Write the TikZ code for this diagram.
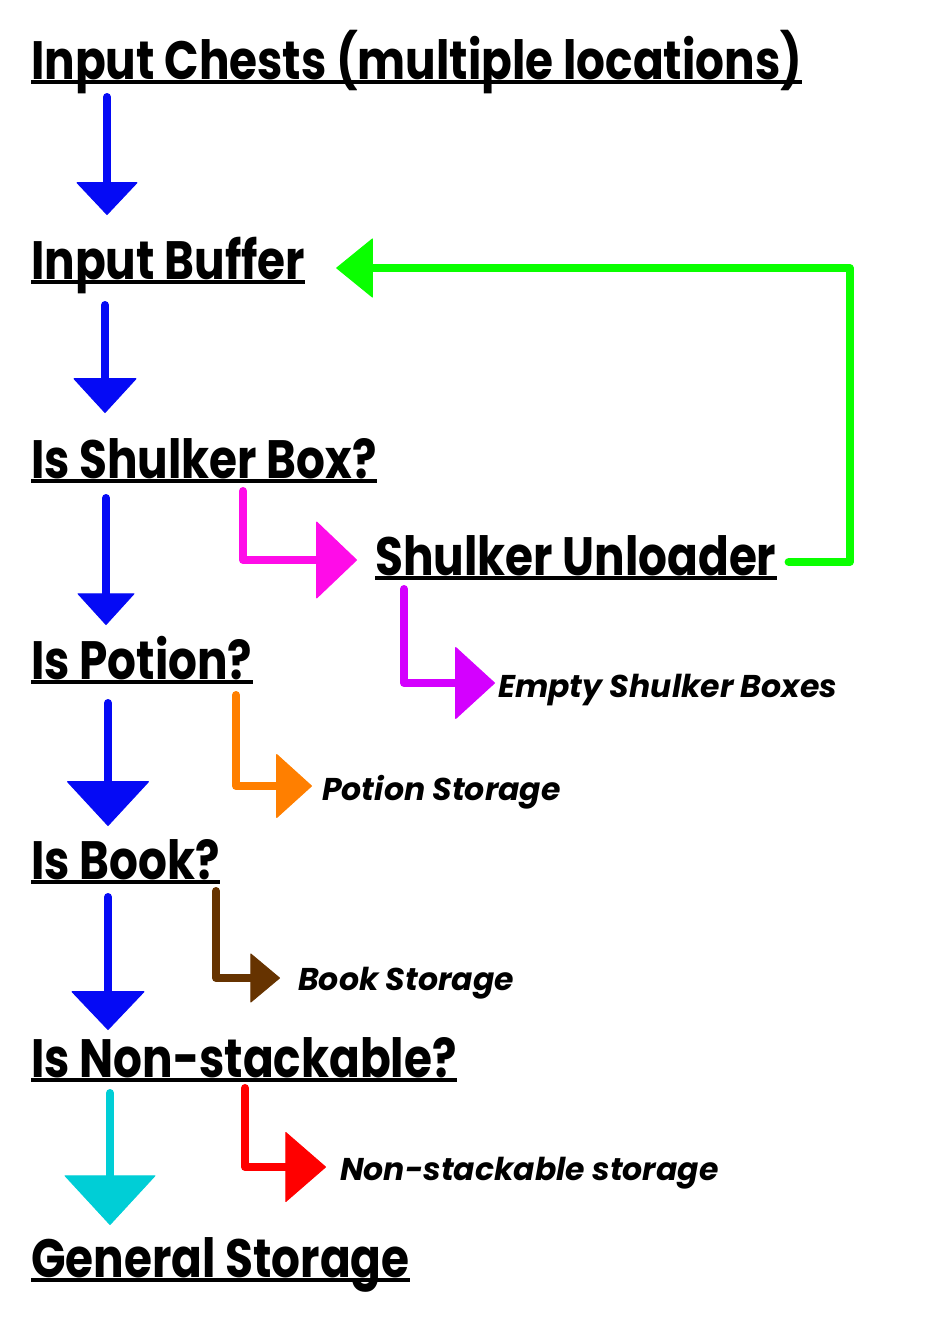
\documentclass[tikz,border=0pt]{standalone}
\usepackage{fontspec}
\setmainfont{Poppins}
\newfontfamily\titlefont{Poppins}[FakeStretch=0.84]
\usetikzlibrary{arrows.meta,calc}
\definecolor{cblue}{RGB}{5,10,245}
\definecolor{ccyan}{RGB}{0,206,214}
\definecolor{cgreen}{RGB}{10,255,0}
\definecolor{cmagenta}{RGB}{255,12,232}
\definecolor{cpurple}{RGB}{212,0,255}
\definecolor{corange}{RGB}{255,127,0}
\definecolor{cbrown}{RGB}{102,51,0}
\definecolor{cred}{RGB}{255,0,0}
\tikzset{
  title/.style={anchor=base west, inner sep=0pt, font=\fontsize{54}{60}\titlefont\bfseries},
  label/.style={anchor=base west, inner sep=0pt, font=\fontsize{31.5}{38}\selectfont\bfseries\itshape},
  uline/.style={line width=3.5pt, black},
  flow/.style={line width=8pt, line cap=round, line join=round},
  head/.style 2 args={-{Triangle[width=#1pt,length=#2pt,line width=1pt,round]}},
}
\begin{document}
\begin{tikzpicture}[x=1pt,y=-1pt]
\useasboundingbox (0,0) rectangle (930,1336);
% nodes
\node[title] (chests) at (31,79) {Input Chests (multiple locations)};
\node[title] (buffer) at (31,279) {Input Buffer};
\node[title] (shbox) at (31,478) {Is Shulker Box?};
\node[title] (unloader) at (375,575) {Shulker Unloader};
\node[title] (potion) at (31,679) {Is Potion?};
\node[title] (book) at (31,879) {Is Book?};
\node[title] (nonstack) at (31,1077) {Is Non-stackable?};
\node[title] (general) at (31,1277) {General Storage};
\node[label] (empty) at (498,697) {Empty Shulker Boxes};
\node[label] (potstore) at (322,800) {Potion Storage};
\node[label] (bookstore) at (298,990) {Book Storage};
\node[label] (nsstore) at (340,1180) {Non-stackable storage};
% underlines
\foreach \n in {chests,buffer,shbox,unloader,potion,book,nonstack,general}
  \draw[uline] ($(\n.base west)+(0,3)$) -- ($(\n.base east)+(0,3)$);
% main flow
\draw[flow, cblue, head={62}{33}] ($(chests.base west)+(76,18)$) -- ($(buffer.base west)+(76,-64)$);
\draw[flow, cblue, head={64}{35}] ($(buffer.base west)+(74,26)$) -- ($(shbox.base west)+(74,-65)$);
\draw[flow, cblue, head={58}{32}] ($(shbox.base west)+(75,20)$) -- ($(potion.base west)+(75,-54)$);
\draw[flow, cblue, head={83}{45}] ($(potion.base west)+(77,24)$) -- ($(book.base west)+(77,-53)$);
\draw[flow, cblue, head={74}{39}] ($(book.base west)+(77,18)$) -- ($(nonstack.base west)+(77,-47)$);
\draw[flow, ccyan, head={92}{50}] ($(nonstack.base west)+(79,16)$) -- ($(general.base west)+(79,-52)$);
% branches
\draw[flow, cmagenta, head={78}{41}] ($(shbox.base west)+(212,13)$) |- ($(unloader.base west)+(-18,-15)$);
\draw[flow, cpurple, head={73}{40}] ($(unloader.base west)+(29,14)$) |- ($(empty.base west)+(-3,-14)$);
\draw[flow, corange, head={65}{36}] ($(potion.base west)+(205,16)$) |- ($(potstore.base west)+(-10,-14)$);
\draw[flow, cbrown, head={50}{30}] ($(book.base west)+(185,12)$) |- ($(bookstore.base west)+(-18,-12)$);
\draw[flow, cred, head={71}{41}] ($(nonstack.base west)+(214,11)$) |- ($(nsstore.base west)+(-14,-13)$);
% feedback
\draw[flow, cgreen, head={60}{37}] ($(unloader.base east)+(12,-13)$) -- ++(61,0) |- ($(buffer.base east)+(31,-11)$);
\end{tikzpicture}
\end{document}
